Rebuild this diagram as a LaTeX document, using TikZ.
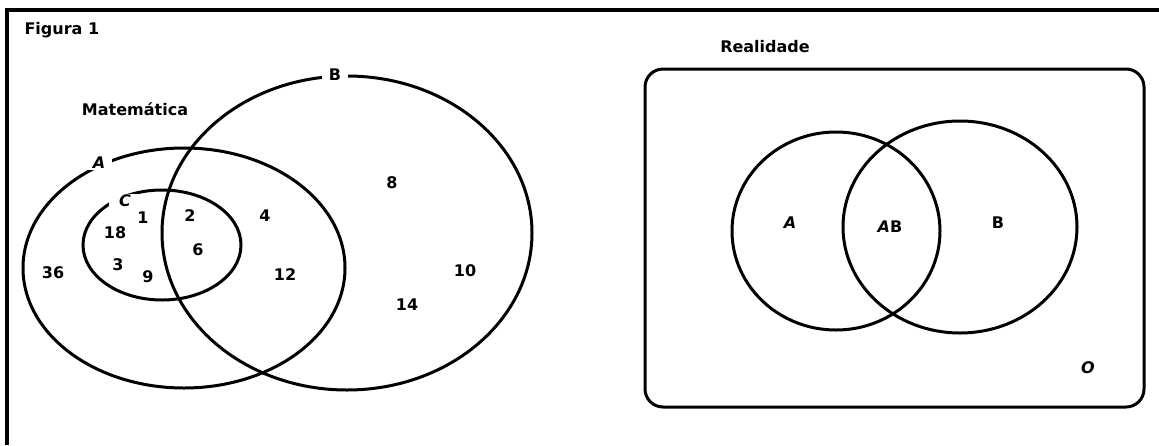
\documentclass[tikz,border=0pt]{standalone}
\usepackage{fontspec}
\setmainfont{DejaVu Sans}
\usetikzlibrary{shapes.geometric}

\begin{document}
\begin{tikzpicture}[x=1pt, y=-1pt, line width=3pt,
  set/.style={ellipse, draw, inner sep=0pt},
  lbl/.style={font=\fontsize{16}{19}\selectfont\bfseries, inner sep=1pt},
  gaplbl/.style={lbl, fill=white, inner xsep=7pt}]
  \useasboundingbox (0,0) rectangle (1159,445);

  % Frame and title
  \draw[line width=3.5pt] (7,445) |- (1159,10);
  \node[lbl, anchor=west] (fig) at (22,30) {Figura 1};

  % Matematica: the three sets
  \node[lbl] (mat) at (135,109) {Matemática};
  \node[set, minimum width=370pt, minimum height=314pt] (setB) at (347,233) {};
  \node[set, minimum width=322pt, minimum height=240pt] (setA) at (184,268) {};
  \node[set, minimum width=158pt, minimum height=110pt] (setC) at (162,245) {};
  \node[gaplbl] (labB) at (335,75) {B};
  \node[gaplbl] (labA) at (99,163) {\itshape A};
  \node[gaplbl, inner xsep=10pt] (labC) at (125,201) {\itshape C};

  % Elements
  \node[lbl] (n36) at (53,273) {36};
  \node[lbl] (n18) at (115,233) {18};
  \node[lbl] (n1) at (143,218) {1};
  \node[lbl] (n3) at (118,265) {3};
  \node[lbl] (n9) at (148,277) {9};
  \node[lbl] (n2) at (190,216) {2};
  \node[lbl] (n6) at (198,250) {6};
  \node[lbl] (n4) at (265,216) {4};
  \node[lbl] (n12) at (285,275) {12};
  \node[lbl] (n8) at (392,183) {8};
  \node[lbl] (n10) at (465,271) {10};
  \node[lbl] (n14) at (407,305) {14};

  % Realidade
  \node[lbl] (real) at (765,47) {Realidade};
  \node[draw, rounded corners=18pt, minimum width=499pt, minimum height=338pt] (univ) at (894.5,238) {};
  \node[set, minimum width=208pt, minimum height=198pt] (circA) at (836,231) {};
  \node[set, minimum width=234pt, minimum height=212pt] (circB) at (960,227) {};
  \node[lbl] (rA) at (790,223) {\itshape A};
  \node[lbl] (rAB) at (890,227) {\itshape A\upshape B};
  \node[lbl] (rB) at (998,223) {B};
  \node[lbl] (rO) at (1088,368) {\itshape O};
\end{tikzpicture}
\end{document}
